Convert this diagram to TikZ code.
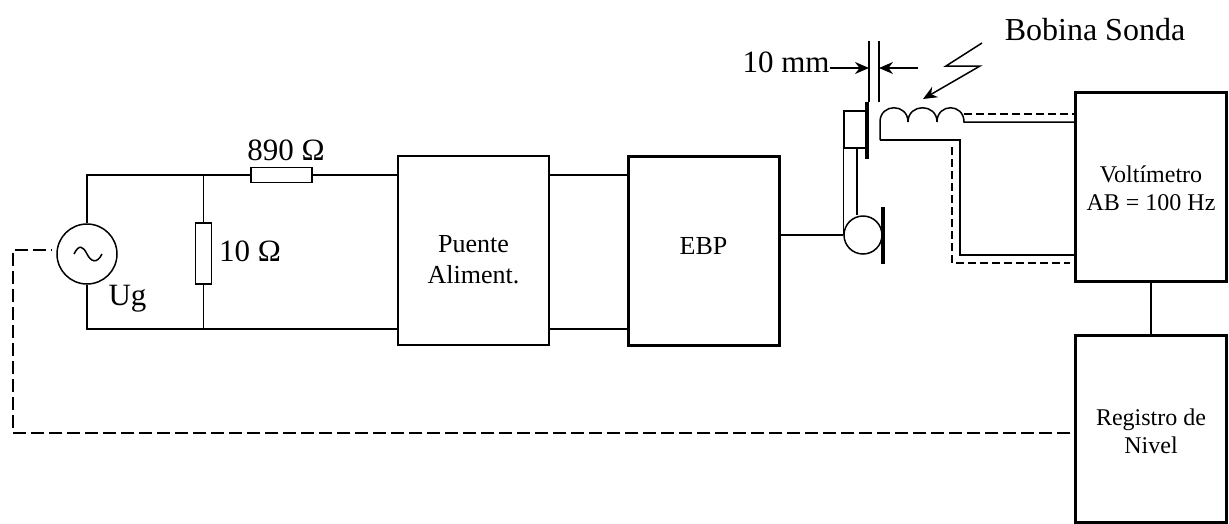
\documentclass[tikz,border=0pt]{standalone}
\usepackage{fontspec}
\setmainfont{Liberation Serif}
\usetikzlibrary{arrows.meta,positioning}
\tikzset{
	wire/.style={line width=1.5pt},
	thinbox/.style={draw,line width=2pt,minimum width=151pt,minimum height=189pt,inner sep=0pt},
	thickbox/.style={thinbox,line width=3pt},
	boxtext/.style 2 args={font=\fontsize{#1}{#2}\selectfont,align=center},
	resistor/.style={draw,line width=1.5pt,inner sep=0pt,fill=white},
	bar/.style={fill=black,inner sep=0pt,minimum width=4pt},
	shield/.style={line width=1.5pt,dash pattern=on 8pt off 4pt},
	sensewire/.style={line width=1.5pt,dash pattern=on 13pt off 5pt},
	tag/.style={font=\fontsize{31}{36}\selectfont,inner sep=0pt},
	dimtip/.style={-{Stealth[length=14pt,width=12pt]}}
}
\begin{document}
\begin{tikzpicture}[x=1pt,y=-1pt,on grid]
\useasboundingbox (0,0) rectangle (1229,523);
\node[thinbox,label={[boxtext={26}{31},yshift=-9pt]center:Puente\\Aliment.}] (puente) at (473.5,250.5) {};
\node[thickbox,label={[boxtext={26}{31},yshift=4pt]center:EBP}] (ebp) [right=230pt of puente] {};
\node[thickbox,label={[boxtext={24}{28},yshift=-2pt]center:Voltímetro\\AB = 100 Hz}] (volt) at (1151,186.5) {};
\node[thickbox,minimum height=187pt,label={[boxtext={24}{28},yshift=-3pt]center:Registro de\\Nivel}] (registro) [below=242pt of volt] {};
\node[draw,circle,line width=1.5pt,minimum size=60pt,inner sep=0pt] (ug) at (87,254) {};
\node[resistor,minimum width=61pt,minimum height=15pt] (r890) at (281.5,175) {};
\node[resistor,minimum width=16pt,minimum height=61pt] (r10) at (203.5,253.5) {};
\node[draw,circle,line width=1.5pt,minimum size=38pt,inner sep=0pt] (mic) at (863,235) {};
\node[bar,minimum height=57pt] (micbar) at (883,235.5) {};
\node[bar,minimum height=57pt] (plate) at (867,130.5) {};
\node[draw,line width=1.5pt,minimum width=23pt,minimum height=37pt,inner sep=0pt] (holder) at (855.5,129.5) {};
\begin{scope}
\clip (100,270) rectangle (160,311);
\node[tag] (ug_t) at (127.5,299) {Ug};
\end{scope}
\node[tag] (r10_t) at (250,251) {10 Ω};
\node[tag] (r890_t) at (286,150) {890 Ω};
\node[tag] (gap_t) at (786,62) {10 mm};
\node[tag,font=\fontsize{32}{36}\selectfont] (sonda_t) at (1095,30) {Bobina Sonda};
\coordinate (j_top) at (203.5,175);
\coordinate (j_bot) at (203.5,329);
\coordinate (g_l) at (869,41);
\coordinate (g_r) at (879,41);
\coordinate (coil_a) at (880,122);
\coordinate (coil_b) at (908,122);
\coordinate (coil_c) at (937,122);
\coordinate (coil_d) at (964,122);
\coordinate (coil_e) at (880,140);
\coordinate (coil_f) at (960,140);
\coordinate (coil_g) at (960,255);
\coordinate (sh_a) at (964,114);
\coordinate (sh_b) at (952,147);
\coordinate (sh_c) at (952,263);
\coordinate (sh_d) at (1070,263);
\coordinate (fb_a) at (1070,433);
\coordinate (fb_b) at (13,433);
\coordinate (fb_c) at (13,250);
\coordinate (fb_d) at (52,250);
\coordinate (zig_a) at (982,43);
\coordinate (zig_b) at (946,66);
\coordinate (zig_c) at (980,66);
\coordinate (zig_d) at (923,99);
% generador
\draw[wire] (ug.north) |- (j_top) -- (r890.west);
\draw[wire] (ug.south) |- (j_bot) -- (j_bot -| puente.west);
\draw[wire] (j_top) -- (r10.north);
\draw[wire] (r10.south) -- (j_bot);
\draw[wire] (r890.east) -- (r890.east -| puente.west);
\draw[wire] ([xshift=-13pt]ug.center) .. controls +(5,-10) and +(-4,-8) .. (ug.center) .. controls +(4,8) and +(-5,10) .. ([xshift=15pt]ug.center);
% bloques
\draw[wire] (puente.east |- j_top) -- (ebp.west |- j_top);
\draw[wire] (puente.east |- j_bot) -- (ebp.west |- j_bot);
\draw[wire] (ebp.east |- mic.west) -- (mic.west);
\draw[wire] (volt) -- (registro);
% membrana
\draw[wire] (holder.south west) -- (mic.west);
\draw[wire] (holder.south -| mic.north) ++(-6,0) -- ([xshift=-6pt]mic.north);
\draw[wire] (g_l) -- (g_l |- plate.north);
\draw[wire] (g_r) -- (g_r |- plate.north);
\draw[wire,dimtip] (gap_t.east |- 0,68) -- (g_l |- 0,68);
\draw[wire,dimtip] (918,68) -- (g_r |- 0,68);
% bobina
\draw[wire] (coil_e) -- (coil_a)
	.. controls +(0,-19) and +(0,-19) .. (coil_b)
	.. controls +(0,-19) and +(0,-19) .. (coil_c)
	.. controls +(0,-19) and +(0,-19) .. (coil_d) -- (coil_d -| volt.west);
\draw[wire] (coil_e) -- (coil_f) -- (coil_g) -- (coil_g -| volt.west);
\draw[shield] (sh_a) -- (sh_a -| volt.west);
\draw[shield] (sh_b) -- (sh_c) -- (sh_d);
\draw[wire,dimtip] (zig_a) -- (zig_b) -- (zig_c) -- (zig_d);
% registro
\draw[sensewire] (fb_a) -- (fb_b) -- (fb_c) -- (fb_d);
\end{tikzpicture}
\end{document}
